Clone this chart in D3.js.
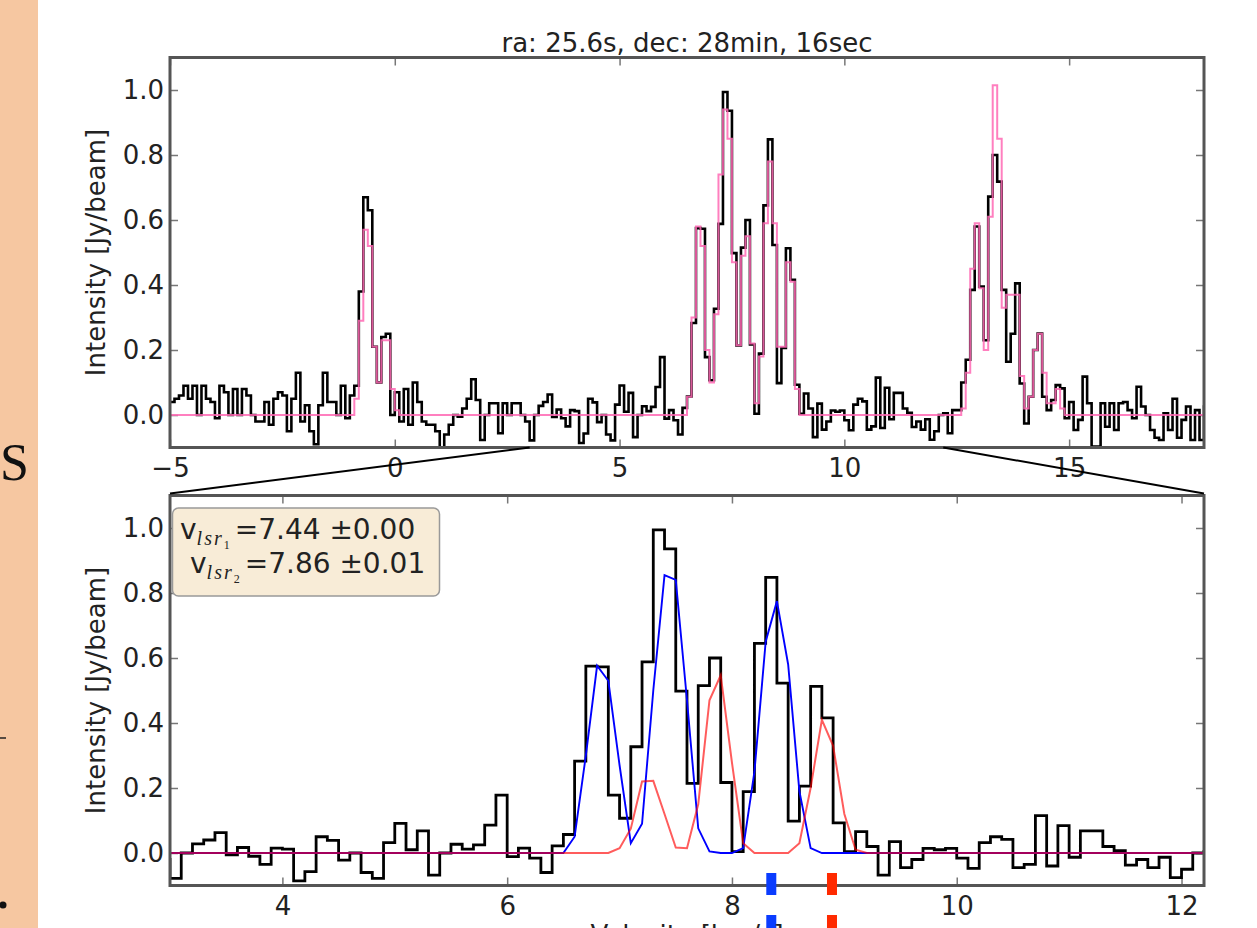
<!DOCTYPE html>
<html>
<head>
<meta charset="utf-8">
<script src="https://cdn.jsdelivr.net/npm/d3@7"></script>
<style>
  body { margin: 0; background: #fff; }
  svg { display: block; font-family: "DejaVu Sans", sans-serif; }
</style>
</head>
<body>
<svg id="chart" width="1257" height="928"></svg>
<script>
// spectral axis: channels of 0.1 km/s starting at -5.0 km/s (left edges)
const chanStart = -5.0;
const chanWidth = 0.1;

// observed spectrum, Jy/beam, one value per channel (-5.0 .. 18.1 km/s)
const intensity = [
  0.04, 0.05, 0.06, 0.09, 0.05, 0.09, 0.0, 0.09, 0.05, 0.04,
  -0.01, 0.09, 0.07, 0.0, 0.08, 0.0, 0.08, 0.06, 0.0, -0.02,
  -0.02, 0.04, -0.03, 0.05, 0.07, 0.06, -0.05, 0.05, 0.13, -0.02,
  0.03, -0.05, -0.09, 0.03, 0.13, 0.04, 0.04, 0.0, 0.09, -0.01,
  0.06, 0.09, 0.38, 0.67, 0.63, 0.21, 0.10, 0.24, 0.25, 0.0,
  0.07, -0.02, 0.08, -0.03, 0.10, 0.04, -0.02, -0.03, -0.03, -0.05,
  -0.10, -0.06, -0.03, 0.0, -0.005, 0.02, 0.05, 0.11, 0.046, -0.077,
  0.0, 0.036, 0.036, -0.056, 0.036, 0.0, 0.036, 0.036, 0.0, -0.02,
  -0.078, 0.0, 0.028, 0.04, 0.063, -0.006, 0.017, -0.01, -0.035, 0.015,
  0.012, -0.086, -0.057, 0.05, 0.039, -0.022, 0.0, -0.06, -0.078, 0.032,
  0.091, 0.01, 0.068, -0.068, 0.0, 0.027, 0.012, 0.025, 0.086, 0.178,
  -0.011, 0.015, -0.016, -0.06, 0.022, 0.057, 0.283, 0.575, 0.573, 0.178,
  0.107, 0.327, 0.588, 0.994, 0.936, 0.498, 0.214, 0.515, 0.60, 0.217,
  0.004, 0.189, 0.645, 0.848, 0.523, 0.098, 0.206, 0.513, 0.416, 0.093,
  0.004, 0.066, 0.02, -0.068, 0.035, -0.045, -0.02, 0.014, 0.01, 0.014,
  -0.016, -0.047, 0.032, 0.05, 0.042, -0.045, -0.035, 0.115, -0.04, 0.084,
  -0.013, 0.068, 0.068, 0.02, 0.007, -0.037, -0.02, -0.045, -0.013, -0.076,
  -0.05, 0.0, 0.005, -0.056, 0.015, 0.015, 0.10, 0.17, 0.385, 0.58,
  0.395, 0.23, 0.672, 0.80, 0.718, 0.385, 0.164, 0.25, 0.405, 0.097,
  -0.026, 0.056, 0.20, 0.251, 0.056, 0.015, 0.046, 0.092, 0.082, -0.01,
  0.04, -0.046, -0.015, 0.118, 0.036, -0.097, -0.097, 0.036, -0.036, 0.036,
  -0.046, 0.036, 0.04, 0.015, -0.01, 0.087, 0.026, 0.0, -0.046, -0.07,
  -0.077, 0.005, -0.046, 0.05, -0.07, -0.015, 0.026, -0.077, 0.015, -0.077,
  0.026
];

// total hyperfine model (pink), same channels
const modelTotal = [
  0, 0, 0, 0, 0, 0, 0, 0, 0, 0,
  0, 0, 0, 0, 0, 0, 0, 0, 0, 0,
  0, 0, 0, 0, 0, 0, 0, 0, 0, 0,
  0, 0, 0, 0, 0, 0, 0, 0, 0, 0,
  0, 0.05, 0.29, 0.57, 0.52, 0.21, 0.10, 0.23, 0.23, 0.08,
  0.015, 0, 0, 0, 0, 0, 0, 0, 0, 0,
  0, 0, 0, 0, 0, 0, 0, 0, 0, 0,
  0, 0, 0, 0, 0, 0, 0, 0, 0, 0,
  0, 0, 0, 0, 0, 0, 0, 0, 0, 0,
  0, 0, 0, 0, 0, 0, 0, 0, 0, 0,
  0, 0, 0, 0, 0, 0, 0, 0, 0, 0,
  0, 0, 0, 0, 0, 0.056, 0.30, 0.58, 0.52, 0.20,
  0.10, 0.31, 0.74, 0.94, 0.85, 0.47, 0.215, 0.49, 0.55, 0.22,
  0.036, 0.18, 0.59, 0.78, 0.59, 0.21, 0.21, 0.47, 0.41, 0.08,
  0, 0, 0, 0, 0, 0, 0, 0, 0, 0,
  0, 0, 0, 0, 0, 0, 0, 0, 0, 0,
  0, 0, 0, 0, 0, 0, 0, 0, 0, 0,
  0, 0, 0, 0, 0, 0, 0.02, 0.13, 0.45, 0.59,
  0.39, 0.20, 0.61, 1.015, 0.85, 0.33, 0.37, 0.37, 0.37, 0.12,
  0.02, 0.056, 0.20, 0.25, 0.13, 0.036, 0.036, 0.08, 0.02, 0,
  0, 0, 0, 0, 0, 0, 0, 0, 0, 0,
  0, 0, 0, 0, 0, 0, 0, 0, 0, 0,
  0, 0, 0, 0, 0, 0, 0, 0, 0, 0,
  0
];

// fitted components in the zoom window, sampled every 0.1 km/s from 3.0 to 12.2
const compStart = 3.0;
const comp1 = [
  0, 0, 0, 0, 0, 0, 0, 0, 0, 0,
  0, 0, 0, 0, 0, 0, 0, 0, 0, 0,
  0, 0, 0, 0, 0, 0, 0, 0, 0, 0,
  0, 0, 0, 0, 0, 0, 0.05, 0.30, 0.576, 0.53,
  0.27, 0.03, 0.09, 0.50, 0.855, 0.84, 0.47, 0.076, 0.005, 0,
  0, 0.015, 0.25, 0.65, 0.775, 0.58, 0.19, 0.015, 0, 0,
  0, 0, 0, 0, 0, 0, 0, 0, 0, 0,
  0, 0, 0, 0, 0, 0, 0, 0, 0, 0,
  0, 0, 0, 0, 0, 0, 0, 0, 0, 0,
  0, 0, 0
];
const comp2 = [
  0, 0, 0, 0, 0, 0, 0, 0, 0, 0,
  0, 0, 0, 0, 0, 0, 0, 0, 0, 0,
  0, 0, 0, 0, 0, 0, 0, 0, 0, 0,
  0, 0, 0, 0, 0, 0, 0, 0, 0, 0,
  0.015, 0.075, 0.22, 0.222, 0.12, 0.017, 0.015, 0.15, 0.47, 0.547,
  0.278, 0.03, 0, 0, 0, 0, 0.03, 0.20, 0.41, 0.33,
  0.12, 0.01, 0, 0, 0, 0, 0, 0, 0, 0,
  0, 0, 0, 0, 0, 0, 0, 0, 0, 0,
  0, 0, 0, 0, 0, 0, 0, 0, 0, 0,
  0, 0, 0
];

const fitVelocity = [7.44, 7.86];
const fitError = [0.00, 0.01];
const markerVelocity = [8.35, 8.89];

const topXTicks = [-5, 0, 5, 10, 15];
const botXTicks = [4, 6, 8, 10, 12];
const yTicks = [0.0, 0.2, 0.4, 0.6, 0.8, 1.0];
const zoomWindow = [3, 12.2];

const svg = d3.select("#chart");
const FS = 26;

// slide background strip on the left
svg.append("rect").attr("x", 0).attr("y", 0).attr("width", 38).attr("height", 928).attr("fill", "#f6c7a1");
svg.append("text").attr("x", 0).attr("y", 480)
  .attr("font-family", "Liberation Serif").attr("font-size", 52).attr("fill", "#111").text("S");
svg.append("line").attr("x1", 0).attr("x2", 6).attr("y1", 738).attr("y2", 738).attr("stroke", "#222").attr("stroke-width", 1.5);
svg.append("circle").attr("cx", 3).attr("cy", 905).attr("r", 3.5).attr("fill", "#111");

const xTop = d3.scaleLinear().domain([-5, 18]).range([170, 1204]);
const yTop = d3.scaleLinear().domain([-0.1, 1.1]).range([447.5, 57.5]);
const xBot = d3.scaleLinear().domain(zoomWindow).range([170, 1204]);
const yBot = d3.scaleLinear().domain([-0.1, 1.1]).range([885.5, 495.5]);

function styleAxis(sel) {
  sel.select(".domain").remove();
  sel.selectAll(".tick line").attr("stroke", "#777").attr("stroke-width", 1.5);
  sel.selectAll(".tick text").attr("fill", "#222").attr("font-size", FS)
    .attr("font-family", "DejaVu Sans");
}

function panel(x, y, xTicks, id) {
  const [x0, x1] = x.range();
  const [yb, yt] = y.range();
  svg.append("clipPath").attr("id", id).append("rect")
    .attr("x", x0).attr("y", yt).attr("width", x1 - x0).attr("height", yb - yt);

  const g = svg.append("g");
  g.append("g").attr("transform", `translate(0,${yb})`)
    .call(d3.axisBottom(x).tickValues(xTicks).tickSize(-8).tickPadding(11).tickFormat(d3.format("d")))
    .call(styleAxis);
  g.append("g").attr("transform", `translate(0,${yt})`)
    .call(d3.axisTop(x).tickValues(xTicks).tickSize(-8).tickFormat(""))
    .call(styleAxis);
  g.append("g").attr("transform", `translate(${x0},0)`)
    .call(d3.axisLeft(y).tickValues(yTicks).tickSize(-8).tickPadding(6).tickFormat(d3.format(".1f")))
    .call(styleAxis);
  g.append("g").attr("transform", `translate(${x1},0)`)
    .call(d3.axisRight(y).tickValues(yTicks).tickSize(-8).tickFormat(""))
    .call(styleAxis);

  g.append("text")
    .attr("transform", `translate(96,${(yb + yt) / 2}) rotate(-90)`)
    .attr("text-anchor", "middle").attr("dominant-baseline", "central")
    .attr("font-size", FS).attr("fill", "#222")
    .text("Intensity [Jy/beam]");

  const plot = svg.append("g").attr("clip-path", `url(#${id})`);
  return {g, plot, frame: () => svg.append("rect")
    .attr("x", x0).attr("y", yt).attr("width", x1 - x0).attr("height", yb - yt)
    .attr("fill", "none").attr("stroke", "#555").attr("stroke-width", 3)};
}

function stepPoints(values) {
  const pts = values.map((v, i) => [chanStart + i * chanWidth, v]);
  pts.push([chanStart + values.length * chanWidth, values[values.length - 1]]);
  return pts;
}

function stepLine(x, y) {
  return d3.line().x(d => x(d[0])).y(d => y(d[1])).curve(d3.curveStepAfter);
}

// ---- top panel: full spectrum ----
const topPanel = panel(xTop, yTop, topXTicks, "clipTop");
topPanel.plot.append("path").datum(stepPoints(intensity))
  .attr("d", stepLine(xTop, yTop)).attr("fill", "none")
  .attr("stroke", "#000").attr("stroke-width", 2.6);
topPanel.plot.append("path").datum(stepPoints(modelTotal))
  .attr("d", stepLine(xTop, yTop)).attr("fill", "none")
  .attr("stroke", "#ff69b4").attr("stroke-width", 2).attr("stroke-opacity", 0.85);
topPanel.frame();

svg.append("text").attr("x", 687).attr("y", 52).attr("text-anchor", "middle")
  .attr("font-size", FS).attr("fill", "#222")
  .text("ra: 25.6s, dec: 28min, 16sec");

// ---- bottom panel: zoom on the main group ----
const botPanel = panel(xBot, yBot, botXTicks, "clipBot");
botPanel.plot.append("path").datum(stepPoints(intensity))
  .attr("d", stepLine(xBot, yBot)).attr("fill", "none")
  .attr("stroke", "#000").attr("stroke-width", 2.8);

const compLine = d3.line().x((d, i) => xBot(compStart + i * chanWidth)).y(d => yBot(d));
botPanel.plot.append("path").datum(comp1).attr("d", compLine).attr("fill", "none")
  .attr("stroke", "#0000ff").attr("stroke-width", 1.9);
botPanel.plot.append("path").datum(comp2).attr("d", compLine).attr("fill", "none")
  .attr("stroke", "#ff0000").attr("stroke-width", 2).attr("stroke-opacity", 0.64);
botPanel.frame();

// legend box with fitted velocities
const LFS = 28;
const lg = svg.append("g");
lg.append("rect").attr("x", 172.5).attr("y", 508).attr("width", 267).attr("height", 88).attr("rx", 6)
  .attr("fill", "#f8ecd7").attr("stroke", "#999").attr("stroke-width", 1.5);
fitVelocity.forEach((v, i) => {
  const t = lg.append("text").attr("x", i === 0 ? 180 : 190).attr("y", 539 + i * 34)
    .attr("font-size", LFS).attr("fill", "#222");
  t.append("tspan").text("v");
  t.append("tspan").attr("font-family", "Liberation Serif").attr("font-style", "italic")
    .attr("font-size", 20).attr("letter-spacing", 2).attr("dy", 6).text("lsr");
  t.append("tspan").attr("font-family", "Liberation Serif").attr("font-size", 12).attr("dy", 4).text(i + 1);
  t.append("tspan").attr("dy", -10).attr("dx", 5).text("=" + v.toFixed(2) + " \u00b1" + fitError[i].toFixed(2));
});

// zoom connector lines
[[xBot.range()[0], xTop(zoomWindow[0])], [xBot.range()[1], xTop(zoomWindow[1])]].forEach(([xb, xt]) => {
  svg.append("line").attr("x1", xb).attr("y1", yBot.range()[1] - 2).attr("x2", xt).attr("y2", yTop.range()[0])
    .attr("stroke", "#000").attr("stroke-width", 2);
});

// velocity markers under the axis
const markerColor = ["#0a3cff", "#ff2a00"];
markerVelocity.forEach((v, i) => {
  svg.append("line").attr("x1", xBot(v)).attr("x2", xBot(v)).attr("y1", 873).attr("y2", 940)
    .attr("stroke", markerColor[i]).attr("stroke-width", 10).attr("stroke-dasharray", "22,20");
});

svg.append("text").attr("x", 687).attr("y", 944).attr("text-anchor", "middle")
  .attr("font-size", FS).attr("fill", "#222").text("Velocity [km/s]");
</script>
</body>
</html>
